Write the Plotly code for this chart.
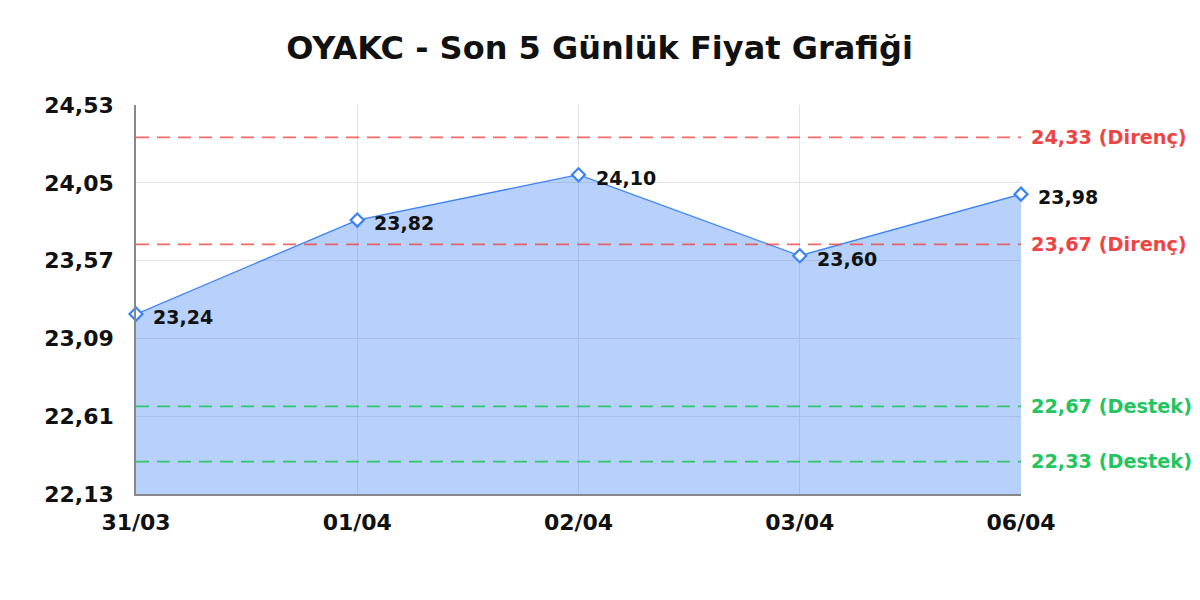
import plotly.graph_objects as go

dates = ["31/03", "01/04", "02/04", "03/04", "06/04"]
prices = [23.24, 23.82, 24.10, 23.60, 23.98]
price_labels = ["23,24", "23,82", "24,10", "23,60", "23,98"]
resistance = [24.33, 23.67]
support = [22.67, 22.33]
y_ticks = [22.13, 22.61, 23.09, 23.57, 24.05, 24.53]
y_tick_labels = ["22,13", "22,61", "23,09", "23,57", "24,05", "24,53"]

FONT = "DejaVu Sans"
BLUE = "#3b82f6"
RED = "#ef4444"
GREEN = "#22c55e"

fig = go.Figure()
fig.add_trace(go.Scatter(
    x=dates, y=prices, mode="lines+markers",
    line=dict(color=BLUE, width=1.3),
    fill="tozeroy", fillcolor="rgba(59,130,246,0.37)",
    marker=dict(symbol="diamond", size=10, color="white", line=dict(color=BLUE, width=2.2)),
    cliponaxis=False,
    showlegend=False, hoverinfo="skip",
))

for i, (d, p, lbl) in enumerate(zip(dates, prices, price_labels)):
    fig.add_annotation(x=d, y=p, text=f"<b>{lbl}</b>", showarrow=False,
                       xanchor="left", yanchor="middle", xshift=15, yshift=-3,
                       font=dict(family=FONT, size=19, color="#111111"))

for lvl in resistance:
    fig.add_shape(type="line", xref="paper", x0=0, x1=1, y0=lvl, y1=lvl,
                  line=dict(color=RED, width=1.7, dash="13px,8px"), opacity=0.8)
    fig.add_annotation(xref="paper", x=1, y=lvl, text=f"<b>{lvl:.2f}".replace(".", ",") + " (Direnç)</b>",
                       showarrow=False, xanchor="left", xshift=8,
                       font=dict(family=FONT, size=19.3, color=RED))
for lvl in support:
    fig.add_shape(type="line", xref="paper", x0=0, x1=1, y0=lvl, y1=lvl,
                  line=dict(color=GREEN, width=1.7, dash="13px,8px"), opacity=0.9)
    fig.add_annotation(xref="paper", x=1, y=lvl, text=f"<b>{lvl:.2f}".replace(".", ",") + " (Destek)</b>",
                       showarrow=False, xanchor="left", xshift=8,
                       font=dict(family=FONT, size=19.3, color=GREEN))

fig.update_layout(
    width=1200, height=600,
    margin=dict(l=128, r=187, t=97, b=114),
    paper_bgcolor="white", plot_bgcolor="white",
    title=dict(text="<b>OYAKC - Son 5 Günlük Fiyat Grafiği</b>", x=0.493, xanchor="center",
               y=0.933, yanchor="middle", font=dict(family=FONT, size=32, color="#111111")),
    font=dict(family=FONT),
)
fig.update_xaxes(
    type="category", range=[0, 4], showgrid=True, gridcolor="#e3e3e3",
    showline=True, linecolor="#888888", linewidth=1.5,
    tickfont=dict(family=FONT, size=22, color="#111111"), ticks="",
    tickprefix="<b>", ticksuffix="</b>", ticklabelstandoff=8,
)
fig.update_yaxes(
    range=[22.13, 24.53], tickvals=y_ticks, ticktext=[f"<b>{t}</b>" for t in y_tick_labels],
    showgrid=True, gridcolor="#e3e3e3", zeroline=False,
    showline=True, linecolor="#888888", linewidth=1.5,
    tickfont=dict(family=FONT, size=22, color="#111111"), ticks="",
    ticklabelstandoff=16,
)

fig.write_html("out.html")
